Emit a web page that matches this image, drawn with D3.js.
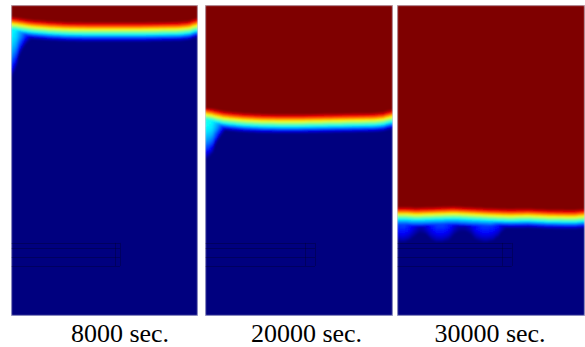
<!DOCTYPE html>
<html>
<head>
<meta charset="utf-8">
<script src="https://cdn.jsdelivr.net/npm/d3@7"></script>
<style>
  body { margin: 0; background: #fff; }
</style>
</head>
<body>
<div id="chart"></div>
<script>
// time labels, one per panel
var times = ['8000 sec.', '20000 sec.', '30000 sec.']

// positions across a panel (% of width) where the front depth was read
var frontX = [0, 5, 10, 20, 30, 40, 50, 60, 70, 80, 90, 95, 100]
// depth of the front (% of depth from the top)
var front8000 = [6.8, 7.2, 7.7, 8.2, 8.5, 8.6, 8.6, 8.6, 8.6, 8.5, 8.4, 8.1, 7.2]
var front20000 = [36.0, 36.6, 37.3, 37.9, 38.2, 38.3, 38.3, 38.2, 38.1, 38.0, 37.9, 37.6, 36.8]
var front30000 = [68.0, 68.0, 68.2, 68.0, 67.8, 68.1, 68.4, 68.6, 68.5, 68.8, 68.9, 68.9, 68.6]

// colour value across the front, offsets in band half-widths
var bandOffset = [-1, -0.65, -0.3, 0, 0.3, 0.65, 1]
var bandValue = [1, 0.87, 0.66, 0.5, 0.36, 0.14, 0]
var bandHalf = 3.2

// plume left below the front (value right under the front, depth it reaches)
var tailX8000 = [0, 2, 4, 6, 8, 10, 13, 100]
var tailVal8000 = [0.38, 0.36, 0.32, 0.27, 0.2, 0.12, 0, 0]
var tailLen8000 = [17, 14, 10, 7, 5, 3.5, 1, 1]

var tailX20000 = [0, 2, 4, 6, 8, 10, 13, 100]
var tailVal20000 = [0.4, 0.39, 0.37, 0.33, 0.27, 0.18, 0, 0]
var tailLen20000 = [14, 13, 11, 8, 5.5, 3.5, 1, 1]

var tailX30000 = [0, 50, 56, 62, 100]
var tailVal30000 = [0.37, 0.37, 0.3, 0, 0]
var tailLen30000 = [3.4, 3.4, 2.6, 1, 1]

// blue patches further down below the front at 30000 sec.
var blobX = [0, 3, 6, 9, 12, 15, 18, 21, 24, 27, 30, 33, 36, 39, 42, 45, 48, 51, 54, 57, 60, 100]
var blobVal = [0.2, 0.21, 0.19, 0.13, 0.08, 0.11, 0.17, 0.2, 0.21, 0.19, 0.13, 0.08, 0.07, 0.11, 0.17, 0.2, 0.2, 0.19, 0.16, 0.1, 0, 0]
var blobLen = [8, 8.5, 8, 6.5, 5, 5.5, 7.5, 8.5, 8.5, 8, 6.5, 5, 5, 5.5, 7.5, 8, 8, 7.5, 6, 4, 1, 1]

// faint box outline near the bottom (depths in %, right edges in % width)
var boxDepth = [76.5, 78.1, 81.0, 83.9]
var boxRight = [[55.6, 58.3], [53, 58.5], [56, 61]]

var width = 585
var height = 347

var svg = d3.select('#chart')
  .append('svg')
  .attr('width', width)
  .attr('height', height)

var defs = svg.append('defs')
defs.append('filter')
  .attr('id', 'soft')
  .attr('x', '-5%').attr('y', '-5%').attr('width', '110%').attr('height', '110%')
  .append('feGaussianBlur')
  .attr('stdDeviation', 0.8)

var panels = [
  { x0: 11, x1: 198, front: front8000, tx: tailX8000, tv: tailVal8000, tl: tailLen8000, label: 120 },
  { x0: 205, x1: 393, front: front20000, tx: tailX20000, tv: tailVal20000, tl: tailLen20000, label: 306.5 },
  { x0: 397, x1: 585, front: front30000, tx: tailX30000, tv: tailVal30000, tl: tailLen30000, label: 490 }
]

// jet colormap
var color = d3.scaleLinear()
  .domain([0, 0.125, 0.375, 0.625, 0.875, 1])
  .range(['#00007f', '#0000ff', '#00ffff', '#ffff00', '#ff0000', '#7f0000'])
  .clamp(true)

var band = d3.scaleLinear().domain(bandOffset).range(bandValue).clamp(true)
var blobValAt = d3.scaleLinear().domain(blobX).range(blobVal)
var blobLenAt = d3.scaleLinear().domain(blobX).range(blobLen)

var y = d3.scaleLinear().domain([0, 100]).range([5, 316])

var colStep = 1
var rowStep = 0.32

panels.forEach(function (p, k) {
  var x = d3.scaleLinear().domain([0, 100]).range([p.x0, p.x1])
  var frontAt = d3.scaleLinear().domain(frontX).range(p.front)
  var tailVal = d3.scaleLinear().domain(p.tx).range(p.tv)
  var tailLen = d3.scaleLinear().domain(p.tx).range(p.tl)

  defs.append('clipPath')
    .attr('id', 'clip' + k)
    .append('rect')
    .attr('x', p.x0).attr('y', y(0))
    .attr('width', p.x1 - p.x0).attr('height', y(100) - y(0))

  var g = svg.append('g').attr('clip-path', 'url(#clip' + k + ')')
  var field = g.append('g').attr('filter', 'url(#soft)')

  var cells = []
  for (var c = 0; c < 100; c += colStep) {
    var xm = c + colStep / 2
    var f = frontAt(xm)
    var tv = tailVal(xm)
    var tl = tailLen(xm)
    var bv = k === 2 ? blobValAt(xm) : 0
    var bl = blobLenAt(xm)
    var runStart = 0
    var runColor = null
    for (var r = 0; r <= 100 + 1e-9; r += rowStep) {
      var d = r + rowStep / 2 - f
      var v = band(d / bandHalf)
      if (d > 0 && d < tl) {
        v = Math.max(v, tv * (1 - Math.pow(d / tl, 2)))
      }
      if (d > 0 && d < bl) {
        v = Math.max(v, bv * (1 - Math.pow(d / bl, 2)))
      }
      var q = color(Math.round(v * 60) / 60)
      if (runColor === null) {
        runColor = q
        runStart = r
      } else if (q !== runColor) {
        cells.push({ c: c, r0: runStart, r1: r, fill: runColor })
        runColor = q
        runStart = r
      }
    }
    cells.push({ c: c, r0: runStart, r1: 100, fill: runColor })
  }

  field.selectAll('rect.cell')
    .data(cells)
    .enter()
    .append('rect')
    .attr('class', 'cell')
    .attr('x', d => Math.round(x(d.c)))
    .attr('width', d => Math.round(x(Math.min(100, d.c + colStep))) - Math.round(x(d.c)))
    .attr('y', d => Math.round(y(d.r0)))
    .attr('height', d => Math.round(y(Math.min(100, d.r1))) - Math.round(y(d.r0)))
    .attr('fill', d => d.fill)
    .attr('shape-rendering', 'crispEdges')

  // faint box outline
  var box = g.append('g')
    .attr('fill', 'none')
    .attr('stroke', 'rgba(0,0,30,0.32)')
    .attr('stroke-width', 1)
  boxDepth.forEach(function (dep) {
    box.append('line')
      .attr('x1', x(0)).attr('x2', x(boxRight[k][1]))
      .attr('y1', Math.round(y(dep)) + 0.5).attr('y2', Math.round(y(dep)) + 0.5)
  })
  boxRight[k].forEach(function (bx) {
    box.append('line')
      .attr('x1', Math.round(x(bx)) + 0.5).attr('x2', Math.round(x(bx)) + 0.5)
      .attr('y1', y(boxDepth[0])).attr('y2', y(boxDepth[3]))
  })

  // panel edge
  g.append('rect')
    .attr('x', p.x0 + 0.5)
    .attr('y', y(0) + 0.5)
    .attr('width', p.x1 - p.x0 - 1)
    .attr('height', y(100) - y(0) - 1)
    .attr('fill', 'none')
    .attr('stroke', 'rgba(190,190,210,0.5)')
    .attr('stroke-width', 1)

  svg.append('text')
    .attr('x', p.label)
    .attr('y', 342)
    .attr('text-anchor', 'middle')
    .style('font-family', '"Liberation Serif", "Times New Roman", Times, serif')
    .style('font-size', '26px')
    .style('fill', '#000')
    .text(times[k])
})
</script>
</body>
</html>
